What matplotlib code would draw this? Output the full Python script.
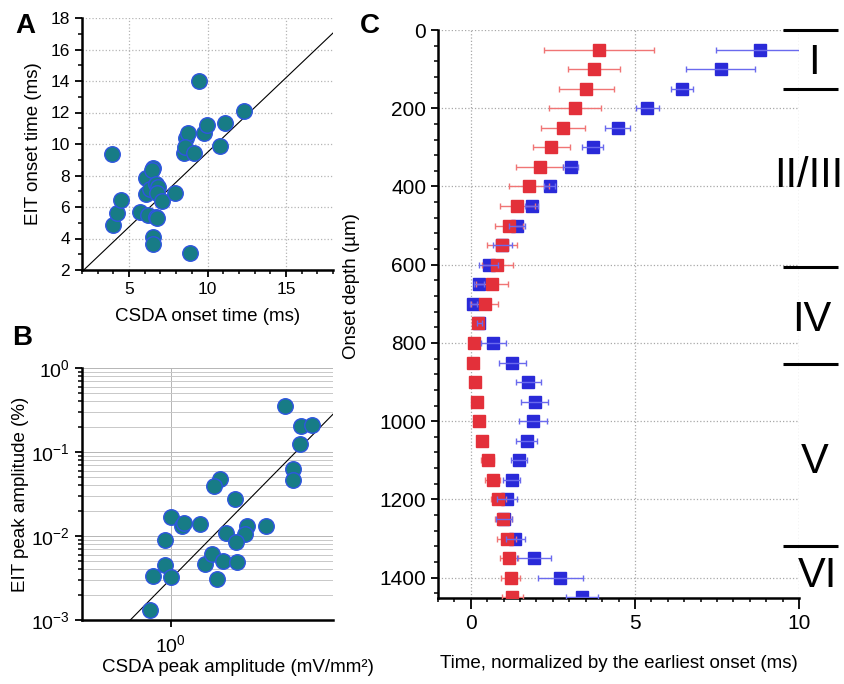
import numpy as np
import matplotlib
matplotlib.use('Agg')
import matplotlib.pyplot as plt
from matplotlib.ticker import MultipleLocator, FixedLocator, NullLocator, LogLocator, NullFormatter

plt.rcParams['font.family'] = ['Liberation Sans', 'DejaVu Sans']
plt.rcParams['mathtext.fontset'] = 'custom'
plt.rcParams['mathtext.rm'] = 'Liberation Sans'
plt.rcParams['mathtext.it'] = 'Liberation Sans:italic'
plt.rcParams['mathtext.bf'] = 'Liberation Sans:bold'

# --- panel A: onset times (ms)
csda_onset = [3.94, 3.98, 4.26, 4.51, 5.68, 6.06, 6.06, 6.20, 6.34, 6.50, 6.47,
              6.53, 6.53, 6.70, 6.80, 6.74, 6.87, 6.80, 7.09, 7.91, 8.51, 8.62,
              8.74, 8.57, 9.15, 8.89, 9.49, 9.77, 9.98, 10.81, 11.09, 12.30]
eit_onset = [9.38, 4.86, 5.60, 6.45, 5.71, 7.83, 6.83, 5.50, 7.13, 8.47, 8.35,
             4.08, 3.66, 5.39, 5.29, 7.47, 7.26, 6.92, 6.35, 6.92, 9.46, 10.37,
             10.73, 9.84, 9.46, 3.06, 14.02, 10.73, 11.22, 9.89, 11.33, 12.07]
onset_fit = (0.947, 0.0)  # slope, intercept

# --- panel B: peak amplitudes
csda_peak = [4.32, 5.34, 6.12, 5.23, 4.78, 4.76, 1.88, 1.75, 2.28, 1.00, 1.15,
             1.19, 1.46, 3.38, 2.67, 2.59, 2.02, 2.31, 0.93, 0.93, 0.794, 1.00,
             1.54, 1.69, 1.96, 2.35, 1.80, 0.77]
eit_peak = [0.356, 0.205, 0.21, 0.125, 0.0625, 0.0458, 0.0475, 0.0389, 0.0277,
            0.0168, 0.0130, 0.0142, 0.0140, 0.0130, 0.0132, 0.0105, 0.0108,
            0.0086, 0.0090, 0.00453, 0.00338, 0.00329, 0.00466, 0.00607,
            0.00506, 0.00487, 0.00305, 0.00132]
peak_fit = (2.17, -2.51)  # log-log slope, log intercept

# --- panel C: onset vs depth
depth = [50, 100, 150, 200, 250, 300, 350, 400, 450, 500, 550, 600, 650, 700,
         750, 800, 850, 900, 950, 1000, 1050, 1100, 1150, 1200, 1250, 1300,
         1350, 1400, 1450]
red_t = [3.90, 3.75, 3.52, 3.18, 2.81, 2.45, 2.10, 1.77, 1.42, 1.16, 0.96, 0.81,
         0.64, 0.42, 0.23, 0.10, 0.08, 0.13, 0.18, 0.25, 0.35, 0.51, 0.67, 0.84,
         0.99, 1.09, 1.16, 1.21, 1.27]
red_err = [1.68, 0.79, 0.83, 0.79, 0.67, 0.57, 0.71, 0.60, 0.53, 0.43, 0.46, 0.48,
           0.48, 0.40, 0.05, 0.03, 0.03, 0.03, 0.03, 0.04, 0.05, 0.20, 0.23, 0.24,
           0.25, 0.30, 0.28, 0.30, 0.32]
blue_t = [8.80, 7.61, 6.44, 5.38, 4.47, 3.71, 3.04, 2.41, 1.85, 1.41, 0.96, 0.54,
          0.26, 0.08, 0.26, 0.69, 1.27, 1.75, 1.95, 1.90, 1.70, 1.46, 1.24, 1.11,
          1.01, 1.36, 1.93, 2.73, 3.38]
blue_err = [1.32, 1.05, 0.34, 0.35, 0.37, 0.32, 0.23, 0.17, 0.20, 0.25, 0.28, 0.30,
            0.15, 0.12, 0.08, 0.38, 0.41, 0.38, 0.41, 0.42, 0.31, 0.25, 0.25, 0.30,
            0.25, 0.30, 0.51, 0.69, 0.49]

layers = ['I', 'II/III', 'IV', 'V', 'VI']
layer_bounds = [0, 150, 605, 855, 1320]
layer_label_depth = [72, 362, 730, 1093, 1384]

teal = '#177c86'
edge = '#2f55e0'
red = '#e3303a'
blue = '#2a2ad8'

W, H = 844, 684
fig = plt.figure(figsize=(W / 100, H / 100), dpi=100)


def box(l, t, r, b):
    return [l / W, 1 - b / H, (r - l) / W, (b - t) / H]


def style(ax, size):
    for s in ['top', 'right']:
        ax.spines[s].set_visible(False)
    for s in ['left', 'bottom']:
        ax.spines[s].set_linewidth(1.8)
    ax.tick_params(which='major', direction='out', length=5, width=1.3, labelsize=size)
    ax.tick_params(which='minor', direction='out', length=3, width=1.1)
    ax.set_axisbelow(True)


# A
axA = fig.add_axes(box(82, 18, 333, 270))
axA.scatter(csda_onset, eit_onset, s=125, c=teal, edgecolors=edge, linewidths=1, zorder=3)
xx = np.array([2, 18])
axA.plot(xx, onset_fit[0] * xx + onset_fit[1], color='k', lw=0.8, zorder=2)
axA.set_xlim(2, 18)
axA.set_ylim(2, 18)
axA.xaxis.set_major_locator(FixedLocator([5, 10, 15]))
axA.xaxis.set_minor_locator(MultipleLocator(1))
axA.yaxis.set_major_locator(MultipleLocator(2))
axA.yaxis.set_minor_locator(MultipleLocator(1))
axA.grid(True, color='#b5b5b5', ls=':', lw=0.9)
style(axA, 12.5)
axA.set_xlabel('CSDA onset time (ms)', fontsize=13.5, labelpad=8)
axA.set_ylabel('EIT onset time (ms)', fontsize=13.5, labelpad=6)

# B
axB = fig.add_axes(box(82, 368, 333, 620))
axB.set_xscale('log')
axB.set_yscale('log')
axB.scatter(csda_peak, eit_peak, s=125, c=teal, edgecolors=edge, linewidths=1, zorder=3)
xb = np.array([0.32, 8])
axB.plot(xb, 10 ** peak_fit[1] * xb ** peak_fit[0], color='k', lw=0.8, zorder=2)
axB.set_xlim(0.32, 8)
axB.set_ylim(1e-3, 1)
axB.xaxis.set_major_locator(FixedLocator([1]))
axB.xaxis.set_minor_locator(NullLocator())
axB.yaxis.set_major_locator(LogLocator(base=10))
axB.yaxis.set_minor_locator(LogLocator(base=10, subs=np.arange(2, 10)))
axB.yaxis.set_minor_formatter(NullFormatter())
axB.grid(True, which='major', color='#b5b5b5', ls='-', lw=0.7)
axB.grid(True, which='minor', axis='y', color='#c8c8c8', ls='-', lw=0.7)
style(axB, 14)
axB.tick_params(axis='x', which='major', pad=5)
axB.set_xlabel('CSDA peak amplitude (mV/mm²)', fontsize=13.5)
axB.xaxis.set_label_coords(0.62, -0.155)
axB.set_ylabel('EIT peak amplitude (%)', fontsize=13.5, labelpad=2)

# C
axC = fig.add_axes(box(438, 30, 799, 598))
axC.plot(blue_t, depth, 's', color=blue, ms=9, zorder=2)
axC.errorbar(red_t, depth, xerr=red_err, fmt='s', color=red, ms=9,
             ecolor='#f07575', elinewidth=1, capsize=2, zorder=3)
axC.errorbar(blue_t, depth, xerr=blue_err, fmt='none', ecolor='#6a6aee',
             elinewidth=1, capsize=2, zorder=4)
axC.set_xlim(-1, 10)
axC.set_ylim(1452, 0)
axC.xaxis.set_major_locator(FixedLocator([0, 5, 10]))
axC.xaxis.set_minor_locator(MultipleLocator(0.5))
axC.yaxis.set_major_locator(MultipleLocator(200))
axC.yaxis.set_minor_locator(MultipleLocator(40))
axC.grid(True, color='#a8a8a8', ls=':', lw=0.9)
style(axC, 15)
axC.tick_params(axis='x', which='major', length=8)
axC.set_xlabel('Time, normalized by the earliest onset (ms)', fontsize=13.5, labelpad=16)
axC.set_ylabel('Onset depth (µm)', fontsize=13.5, labelpad=6)
axC.yaxis.set_label_coords(-0.215, 0.55)

axC.hlines(layer_bounds, 9.5, 11.2, colors='k', lw=2.2, clip_on=False)
label_x = [10.45, 9.25, 10.4, 10.47, 10.55]
label_ha = ['center', 'left', 'center', 'center', 'center']
for name, d, x, ha in zip(layers, layer_label_depth, label_x, label_ha):
    axC.text(x, d, name, fontsize=30, ha=ha, va='center_baseline', clip_on=False)

fig.text(15 / W, 1 - 33 / H, 'A', fontsize=20, fontweight='bold')
fig.text(12 / W, 1 - 345 / H, 'B', fontsize=20, fontweight='bold')
fig.text(360 / W, 1 - 33 / H, 'C', fontsize=20, fontweight='bold')

fig.savefig('out.png', dpi=100)
